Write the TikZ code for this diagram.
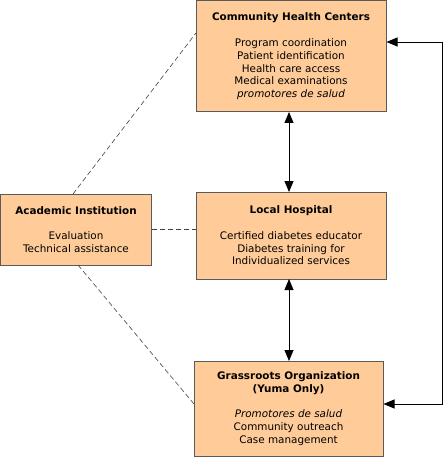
\documentclass[tikz,border=0pt]{standalone}
\usepackage{fontspec}
\setmainfont{DejaVu Sans}
\usetikzlibrary{arrows.meta}
\definecolor{boxfill}{HTML}{FFCC99}
\definecolor{boxline}{HTML}{5A5A5A}
\tikzset{
  orgbox/.style={draw=boxline, fill=boxfill, line width=1pt, inner sep=0pt,
    align=center, font=\fontsize{10.4}{12.8}\selectfont},
  link/.style={line width=0.9pt, black},
  dashlink/.style={line width=0.6pt, black!75, dash pattern=on 5pt off 3pt},
  tip/.style={-{Triangle[length=11pt,width=9pt]}},
  tips/.style={{Triangle[length=11pt,width=9pt]}-{Triangle[length=11pt,width=9pt]}}
}
\begin{document}
\begin{tikzpicture}[x=1pt,y=-1pt]
\useasboundingbox (0,0) rectangle (443,457);
\node[orgbox, minimum width=190pt, minimum height=111pt] (chc) at (291,56.5)
  {\textbf{Community Health Centers}\\[12.8pt]Program coordination\\Patient identification\\Health care access\\Medical examinations\\\textit{promotores de salud}};
\node[orgbox, minimum width=190pt, minimum height=87pt] (hosp) at (291,235.5)
  {\textbf{Local Hospital}\\[12.8pt]Certified diabetes educator\\Diabetes training for\\Individualized services};
\node[orgbox, minimum width=189pt, minimum height=95pt] (grass) at (288.5,408.5)
  {\textbf{Grassroots Organization}\\\textbf{(Yuma Only)}\\[12.8pt]\textit{Promotores de salud}\\Community outreach\\Case management};
\node[orgbox, minimum width=151pt, minimum height=71pt] (acad) at (76,229.5)
  {\textbf{Academic Institution}\\[12.8pt]Evaluation\\Technical assistance};
\coordinate (rt) at (442,42);
\coordinate (rb) at (442,404);
\draw[link, tips] (289,112) -- (289,192);
\draw[link, tips] (289,279) -- (289,361);
\draw[link, tip] (rt) -- (chc.east |- rt);
\draw[link, tip] (rt) -- (rb) -- (grass.east |- rb);
\draw[dashlink] (73,194) -- (196,33);
\draw[dashlink] (acad.east) -- (hosp.west |- acad.east);
\draw[dashlink] (78,265) -- (194,404);
\end{tikzpicture}
\end{document}
